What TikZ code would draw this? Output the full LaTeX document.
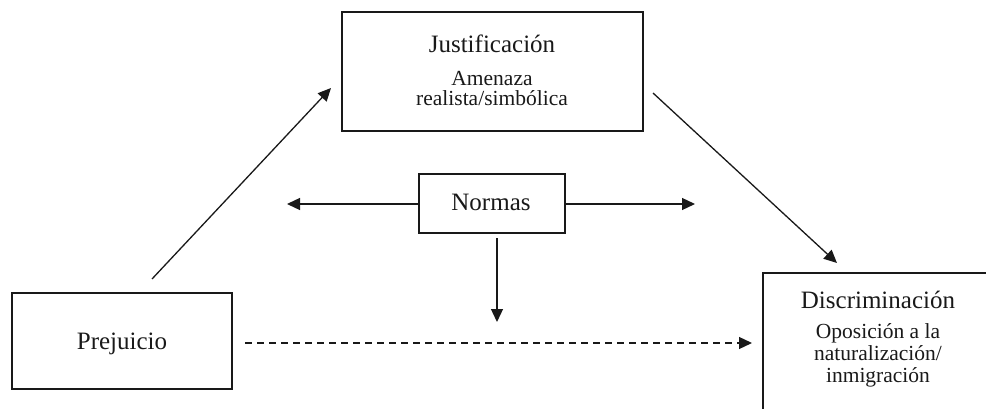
\documentclass[tikz,border=0pt]{standalone}
\usepackage{fontspec}
\setmainfont{Liberation Serif}
\usetikzlibrary{arrows.meta}
\tikzset{
  box/.style={draw=black!90, line width=1.5pt, rectangle, inner sep=0pt},
  head/.style={anchor=base, inner sep=0pt, font=\fontsize{25}{28}\selectfont, text=black!90},
  sub/.style={anchor=base, inner sep=0pt, font=\fontsize{21.5}{24}\selectfont, text=black!90},
  conn/.style={draw=black!90, line width=1.3pt, -{Triangle[length=13pt,width=12pt]}},
  dconn/.style={conn, dash pattern=on 7pt off 5pt}
}
\begin{document}
\begin{tikzpicture}[x=1pt,y=-1pt]
\useasboundingbox (0,0) rectangle (986,409);
% boxes
\node[box, minimum width=301pt, minimum height=119pt] (just) at (492.5,71.5) {};
\node[box, minimum width=146pt, minimum height=59pt] (norm) at (492,203.5) {};
\node[box, minimum width=220pt, minimum height=96pt] (prej) at (122,341) {};
\begin{scope}
  \clip (0,0) rectangle (986,409);
  \node[box, minimum width=240pt, minimum height=170pt, anchor=north west] (disc) at (762,272) {};
\end{scope}
% texts
\node[head] (tjust) at (492,53) {Justificación};
\node[sub] (tjust1) at (492,86) {Amenaza};
\node[sub] (tjust2) at (492,106) {realista/simbólica};
\node[head] (tnorm) at (491,210.5) {Normas};
\node[head] (tprej) at (122,349) {Prejuicio};
\node[head] (tdisc) at (878,308) {Discriminación};
\node[sub] (tdisc1) at (878,338) {Oposición a la};
\node[sub] (tdisc2) at (878,360) {naturalización/};
\node[sub] (tdisc3) at (878,382) {inmigración};
% connector end points
\coordinate (a1s) at (152,279);
\coordinate (a1e) at (331,88);
\coordinate (a2s) at (653,93);
\coordinate (a2e) at (837,263);
\coordinate (nl) at (287,204);
\coordinate (nr) at (695,204);
\coordinate (nds) at (497,238);
\coordinate (nde) at (497,322);
\coordinate (ds) at (245,343);
\coordinate (de) at (752,343);
% connectors
\draw[conn] (a1s) -- (a1e);
\draw[conn] (a2s) -- (a2e);
\draw[conn] (norm.west |- nl) -- (nl);
\draw[conn] (norm.east |- nr) -- (nr);
\draw[conn] (nds) -- (nde);
\draw[dconn] (ds) -- (de);
\end{tikzpicture}
\end{document}
